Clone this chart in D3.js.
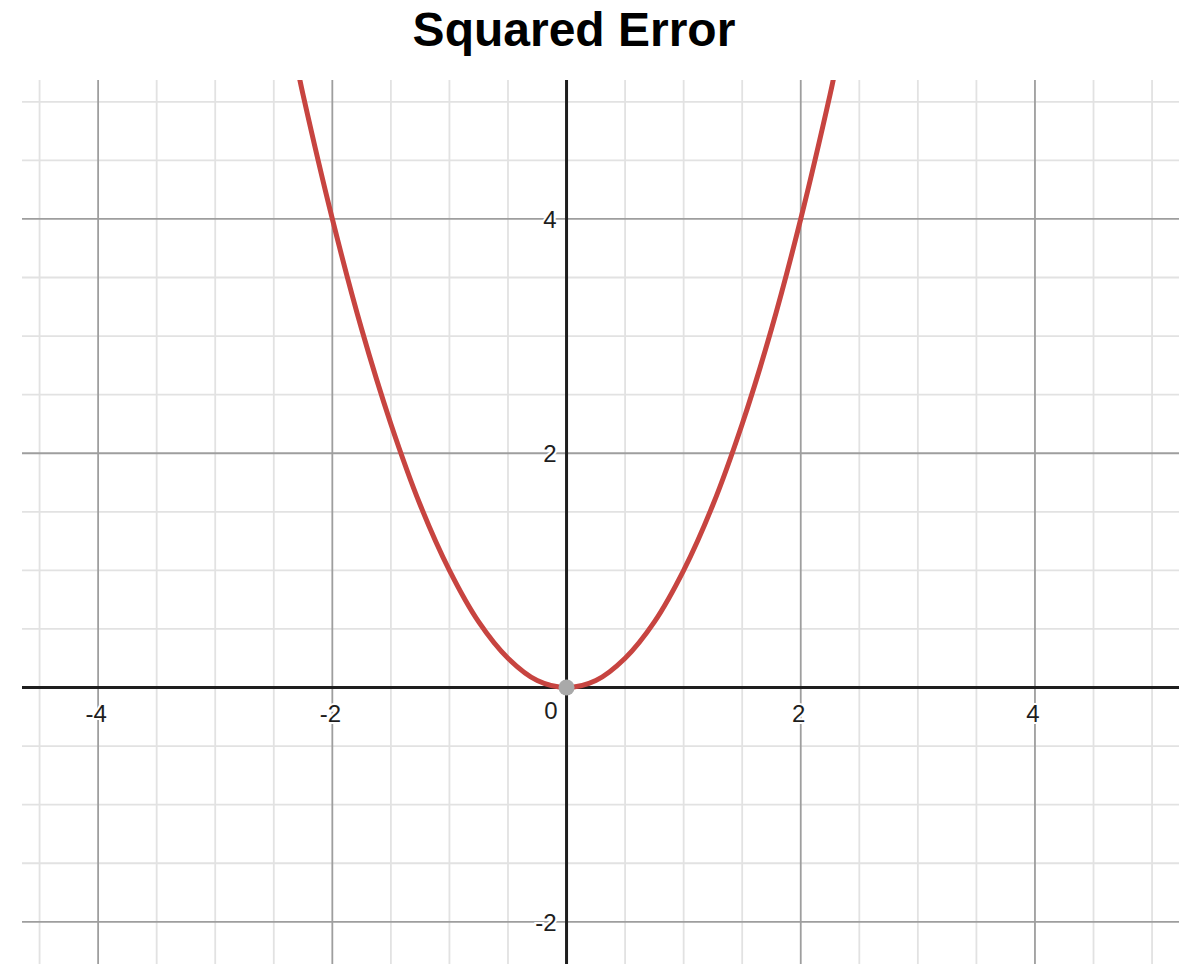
<!DOCTYPE html>
<html><head><meta charset="utf-8">
<script src="https://cdn.jsdelivr.net/npm/d3@7"></script>
<style>body{margin:0;background:#fff;} svg{display:block;}</style>
</head><body>
<script>
const title = "Squared Error";
const curveX = [-2.28,-2.25,-2,-1.75,-1.5,-1.25,-1,-0.75,-0.5,-0.25,0,0.25,0.5,0.75,1,1.25,1.5,1.75,2,2.25,2.28];
const curveY = [5.2,5.06,4,3.06,2.25,1.56,1,0.56,0.25,0.06,0,0.06,0.25,0.56,1,1.56,2.25,3.06,4,5.06,5.2];
const xTickLabels = [-4,-2,0,2,4];
const yTickLabels = [-2,2,4];
const minorStep = [0.5];
const pointX = [0], pointY = [0];

const W = 1193, H = 964;
const svg = d3.select("body").append("svg").attr("width", W).attr("height", H);
const pLeft = 22, pRight = 1179, pTop = 80, pBottom = 964;
const x = d3.scaleLinear().domain([-4.65, 5.23]).range([pLeft, pRight]);
const y = d3.scaleLinear().domain([-2.36, 5.186]).range([pBottom, pTop]);

svg.append("text").attr("x", 574).attr("y", 46).attr("text-anchor","middle")
  .attr("font-family","Liberation Sans, Arial, sans-serif").attr("font-weight","bold")
  .attr("font-size", 48).text(title);

const clip = svg.append("clipPath").attr("id","c").append("rect")
  .attr("x",pLeft).attr("y",pTop).attr("width",pRight-pLeft).attr("height",pBottom-pTop);
const g = svg.append("g").attr("clip-path","url(#c)");

const minorX = d3.range(-4.5, 5.3, minorStep[0]).filter(v => Math.abs(v % 2) > 1e-6);
const minorY = d3.range(-2.5, 5.3, minorStep[0]).filter(v => Math.abs(v % 2) > 1e-6);
const majorX = [-4,-2,2,4], majorY = [-2,2,4];
g.selectAll(".mx").data(minorX).enter().append("line")
  .attr("x1",d=>x(d)).attr("x2",d=>x(d)).attr("y1",pTop).attr("y2",pBottom)
  .attr("stroke","#e2e2e2").attr("stroke-width",1.8);
g.selectAll(".my").data(minorY).enter().append("line")
  .attr("y1",d=>y(d)).attr("y2",d=>y(d)).attr("x1",pLeft).attr("x2",pRight)
  .attr("stroke","#e2e2e2").attr("stroke-width",1.8);
g.selectAll(".Mx").data(majorX).enter().append("line")
  .attr("x1",d=>x(d)).attr("x2",d=>x(d)).attr("y1",pTop).attr("y2",pBottom)
  .attr("stroke","#9e9e9e").attr("stroke-width",1.8);
g.selectAll(".My").data(majorY).enter().append("line")
  .attr("y1",d=>y(d)).attr("y2",d=>y(d)).attr("x1",pLeft).attr("x2",pRight)
  .attr("stroke","#9e9e9e").attr("stroke-width",1.8);
// axes
g.append("line").attr("x1",x(0)).attr("x2",x(0)).attr("y1",pTop).attr("y2",pBottom)
  .attr("stroke","#1e1e1e").attr("stroke-width",3);
g.append("line").attr("y1",y(0)).attr("y2",y(0)).attr("x1",pLeft).attr("x2",pRight)
  .attr("stroke","#1e1e1e").attr("stroke-width",3);

// labels
const lab = svg.append("g").attr("font-family","Liberation Sans, Arial, sans-serif")
  .attr("font-size",24).attr("fill","#1e1e1e");
lab.selectAll(".xl").data(xTickLabels).enter().append("text")
  .attr("x",d=> d===0 ? x(0)-9 : x(d)-2).attr("y", d => d===0 ? y(0)+31 : y(0)+34)
  .attr("text-anchor", d => d===0 ? "end" : "middle")
  .attr("stroke","#fff").attr("stroke-width",4).attr("paint-order","stroke")
  .text(d => d < 0 ? "-" + Math.abs(d) : d);
lab.selectAll(".yl").data(yTickLabels).enter().append("text")
  .attr("x", x(0)-10).attr("y", d=>y(d)+9)
  .attr("text-anchor","end")
  .attr("stroke","#fff").attr("stroke-width",4).attr("paint-order","stroke")
  .text(d => d < 0 ? "-" + Math.abs(d) : d);

// curve
const pts = curveX.map((v,i)=>[v,curveY[i]]);
g.append("path").datum(pts)
  .attr("d", d3.line().x(d=>x(d[0])).y(d=>y(d[1])).curve(d3.curveCatmullRom))
  .attr("fill","none").attr("stroke","#c74440").attr("stroke-width",5);
g.selectAll(".pt").data(pointX).enter().append("circle")
  .attr("cx",(d)=>x(d)).attr("cy",(d,i)=>y(pointY[i])).attr("r",8).attr("fill","#a9a9a9");
</script>
</body></html>
